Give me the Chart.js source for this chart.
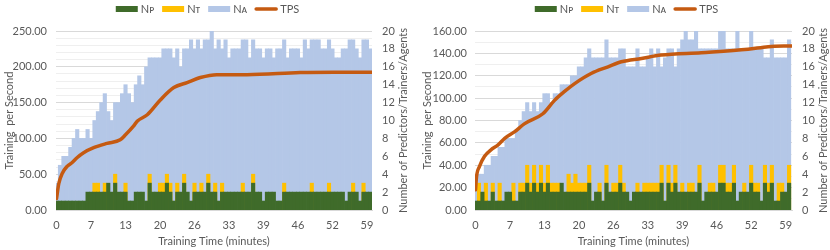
<!DOCTYPE html>
<html>
<head>
<meta charset="utf-8">
<script src="https://cdn.jsdelivr.net/npm/chart.js@4/dist/chart.umd.min.js"></script>
<style>
  body { margin: 0; background: #fff; }
  .wrap { display: flex; width: 830px; height: 250px; }
  canvas { display: block; }
</style>
</head>
<body>
<div class="wrap">
  <canvas id="left" width="415" height="250"></canvas>
  <canvas id="right" width="415" height="250"></canvas>
</div>
<script>
// bar slots every 0.65 min, labels every 10 slots (0, 6.5, 13 ...)
const STEP = 0.65;
const minutes = Array.from({ length: 92 }, (_, i) => +(i * STEP).toFixed(2));
const xTicks = [0, 6.5, 13, 19.5, 26, 32.5, 39, 45.5, 52, 58.5];

// left run
const npLeft = [1,1,1,1,1,1,1,1,1,2, 2,2,2,2,2,3,2,3,2,2, 2,1,1,2,2,2,1,3,2,2,
  2,2,3,2,1,2,2,3,2,1, 2,2,2,2,3,2,2,1,2,2, 2,2,2,2,2,2,2,3,2,2,
  1,2,2,2,1,1,2,2,2,2, 2,2,2,2,2,2,2,2,2,2, 2,2,2,2,1,2,2,2,1,2, 2,2];
const ntLeft = [0,0,0,0,0,0,0,0,0,0, 0,3,3,0,3,0,0,4,0,0, 3,0,0,0,0,0,0,4,0,0,
  3,3,4,3,0,3,0,4,0,0, 3,0,3,0,4,0,3,0,3,0, 0,0,0,0,3,0,0,4,0,0,
  0,0,0,0,0,0,3,0,0,0, 0,0,0,0,3,0,0,0,0,3, 0,0,0,0,0,0,3,0,0,3, 0,0];
const naLeft = [3,5,6,6,7,8,9,8,8,9, 8,10,11,12,13,11,10,12,12,13, 14,13,12,14,15,14,16,17,17,17,
  17,18,18,18,17,18,16,18,18,19, 18,19,18,19,19,20,18,19,18,19, 17,18,18,18,19,19,17,19,18,18,
  17,18,18,17,18,18,19,17,18,18, 18,17,19,18,19,19,19,18,18,19, 18,17,17,18,18,19,19,18,17,19, 19,18];
const tpsTimeLeft = [0, 0.43, 1.07, 2.0, 2.9, 3.85, 5.1, 7.0, 9.5, 12.0, 13.0, 14.5, 15.2, 17.1, 19.6, 22.1, 24.6, 27.1, 30.2, 35.9, 45.9, 52.2, 59.5];
const tpsLeft = [16, 37, 51, 61, 66, 73, 80, 87, 93, 98, 105, 117, 124, 133, 154, 171, 178, 185, 189, 189, 192, 192.5, 192.5];

// right run
const npRight = [1,1,2,1,1,2,1,1,1,2, 2,1,1,2,2,3,2,3,2,3, 2,3,2,2,2,3,2,2,2,2,
  2,2,2,3,1,2,2,1,3,2, 2,2,3,2,2,1,2,2,2,2, 2,2,2,2,3,1,3,2,3,2,
  2,2,2,2,2,3,1,2,2,2, 2,3,3,2,2,3,1,2,2,2, 3,2,2,1,3,2,3,1,1,2, 2,3];
const ntRight = [0,3,0,3,0,3,0,3,0,0, 0,3,0,3,3,5,3,5,3,5, 3,5,3,3,3,0,0,4,3,4,
  3,3,3,5,0,0,3,0,5,0, 3,3,5,3,0,0,0,3,0,3, 3,3,3,3,5,0,5,3,5,0,
  3,0,3,3,0,5,0,0,3,3, 0,5,5,3,3,5,0,0,3,0, 5,3,3,0,5,3,5,0,3,3, 0,5];
const naRight = [3,4,4,5,5,6,6,7,7,8, 8,8,9,10,11,12,11,12,11,12, 13,13,12,13,13,14,14,14,15,15,
  16,16,17,18,17,17,17,17,19,17, 17,17,18,18,16,16,16,18,16,16, 17,18,16,18,16,17,18,18,16,18,
  19,20,19,19,20,18,18,18,18,18, 18,20,20,18,18,18,20,18,18,18, 20,18,18,18,17,17,19,17,17,17, 17,19];
const tpsTimeRight = [0, 0.19, 0.75, 1.7, 2.96, 4.2, 5.5, 7.4, 9.2, 12.7, 14.9, 16.8, 18.7, 21.8, 25.0, 27.5, 31.3, 35.0, 42.6, 51.4, 55.2, 59.6];
const tpsRight = [18, 30, 39, 48, 54, 58, 64, 70, 77, 86, 98, 106, 113, 122, 128, 132.5, 135.5, 138.5, 140.6, 143.6, 146, 146.6];

const GREEN = '#3f6b2a', YELLOW = '#ffc000', BLUE = '#b4c7e7', ORANGE = '#c55a11';
const TEXT = '#595959';
const FONT = "Lato, 'DejaVu Sans', sans-serif";

const legendItems = [
  { label: 'N\u1D18', color: GREEN, line: false },
  { label: 'N\u1D1B', color: YELLOW, line: false },
  { label: 'N\u1D00', color: BLUE, line: false },
  { label: 'TPS', color: ORANGE, line: true }
];

const decor = {
  id: 'decor',
  afterDraw(chart, args, opts) {
    const { ctx, chartArea } = chart;
    ctx.save();
    ctx.fillStyle = TEXT;
    ctx.font = '11px ' + FONT;
    ctx.textBaseline = 'middle';

    // legend
    const boxW = 22, gap = 3, space = 8;
    let total = 0;
    legendItems.forEach((it, i) => {
      total += boxW + gap + ctx.measureText(it.label).width + (i < legendItems.length - 1 ? space : 0);
    });
    let x = chart.width / 2 - total / 2 + opts.legendShift;
    const ly = 9;
    legendItems.forEach(it => {
      if (it.line) {
        ctx.strokeStyle = it.color;
        ctx.lineWidth = 3.5;
        ctx.lineCap = 'round';
        ctx.beginPath();
        ctx.moveTo(x + 1, ly);
        ctx.lineTo(x + boxW - 1, ly);
        ctx.stroke();
      } else {
        ctx.fillStyle = it.color;
        ctx.fillRect(x, ly - 3, boxW, 6);
      }
      x += boxW + gap;
      ctx.fillStyle = TEXT;
      ctx.textAlign = 'left';
      ctx.fillText(it.label, x, ly);
      x += ctx.measureText(it.label).width + space;
    });

    // axis titles
    const cy = (chartArea.top + chartArea.bottom) / 2;
    ctx.textAlign = 'center';
    ctx.fillText('Training Time (minutes)', (chartArea.left + chartArea.right) / 2, 241);
    [[opts.leftTitleX, 'Training  per Second'], [opts.rightTitleX, 'Number of Predictors/Trainers/Agents']].forEach(([tx, t]) => {
      ctx.save();
      ctx.translate(tx, cy);
      ctx.rotate(-Math.PI / 2);
      ctx.fillText(t, 0, 0);
      ctx.restore();
    });
    ctx.restore();
  }
};

function buildChart(id, d) {
  const pts = (xs, ys) => xs.map((t, i) => ({ x: t, y: ys[i] }));
  const bar = (label, ys, color, order) => ({
    type: 'bar', label, data: pts(minutes, ys), yAxisID: 'y2', backgroundColor: color,
    grouped: false, barPercentage: 1, categoryPercentage: 1, order
  });
  return new Chart(document.getElementById(id), {
    type: 'bar',
    data: {
      datasets: [
        {
          type: 'line', label: 'TPS', data: pts(d.tpsTime, d.tps), yAxisID: 'y',
          borderColor: ORANGE, borderWidth: 3.5, pointRadius: 0, borderCapStyle: 'round',
          borderJoinStyle: 'round', cubicInterpolationMode: 'monotone', order: 0
        },
        bar('N\u1D18', d.np, GREEN, 1),
        bar('N\u1D1B', d.nt, YELLOW, 2),
        bar('N\u1D00', d.na, BLUE, 3)
      ]
    },
    options: {
      responsive: false,
      animation: false,
      devicePixelRatio: 1,
      layout: { padding: { top: 31, left: 0, right: 0, bottom: 0 } },
      plugins: {
        legend: { display: false },
        tooltip: { enabled: false },
        decor: d.decor
      },
      scales: {
        x: {
          type: 'linear', min: -0.1, max: d.xMax, offset: false,
          afterBuildTicks: s => { s.ticks = xTicks.map(v => ({ value: v })); },
          afterFit: s => { s.height = 40; },
          ticks: { callback: v => Math.round(v), color: TEXT, font: { family: FONT, size: 11 }, padding: 9, maxRotation: 0, autoSkip: false },
          grid: { display: false, drawTicks: false },
          border: { display: true, color: '#d9d9d9' }
        },
        y: {
          position: 'left', min: 0, max: d.yMax,
          afterFit: s => { s.width = d.leftW; },
          ticks: {
            stepSize: d.minor, autoSkip: false, padding: d.leftPad, color: TEXT,
            font: { family: FONT, size: 11 },
            callback: v => (v % d.major === 0 ? v.toFixed(2) : '')
          },
          grid: { drawTicks: false, color: c => (c.tick.value % d.major === 0 ? '#d9d9d9' : '#efefef') },
          border: { display: false }
        },
        y2: {
          position: 'right', min: 0, max: 20,
          afterFit: s => { s.width = d.rightW; },
          ticks: { stepSize: 2, autoSkip: false, padding: 10, color: TEXT, font: { family: FONT, size: 11 } },
          grid: { display: false, drawTicks: false },
          border: { display: false }
        }
      }
    },
    plugins: [decor]
  });
}

buildChart('left', {
  np: npLeft, nt: ntLeft, na: naLeft, tpsTime: tpsTimeLeft, tps: tpsLeft,
  yMax: 250, major: 50, minor: 10, xMax: 59.45, leftW: 56, rightW: 43, leftPad: 9,
  decor: { legendShift: 0, leftTitleX: 9, rightTitleX: 403 }
});
buildChart('right', {
  np: npRight, nt: ntRight, na: naRight, tpsTime: tpsTimeRight, tps: tpsRight,
  yMax: 160, major: 20, minor: 10, xMax: 59.7, leftW: 60, rightW: 38, leftPad: 8,
  decor: { legendShift: 4, leftTitleX: 12, rightTitleX: 408 }
});
</script>
</body>
</html>
